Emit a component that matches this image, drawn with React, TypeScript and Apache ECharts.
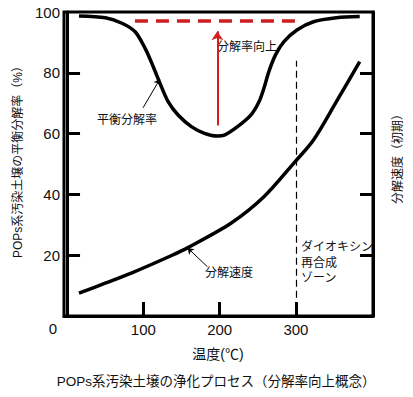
import React, { useEffect, useRef } from "react";
import * as echarts from "echarts";

// Equilibrium decomposition rate (%) vs temperature (°C)
const eqTemps = [15.6, 50.3, 72, 89.2, 102.2, 113, 121.7, 132.5, 145.5, 162.9, 180.1, 197.4, 206.1, 223.4, 240.8, 251.6, 258, 264.5, 273.2, 284, 301.3, 323, 353, 383.6];
const eqRates = [98.7, 98.1, 96.3, 93.5, 88.1, 82, 76.6, 70.5, 66.1, 62.3, 60.1, 59.2, 59.5, 62.3, 66.1, 70.5, 74.9, 80.4, 85.9, 90.2, 94.1, 96.8, 98.1, 98.5];

// Initial decomposition speed (relative) vs temperature
const spTemps = [15.6, 50, 85, 137, 158.4, 214.8, 258, 299, 323, 353, 383.6];
const spRates = [7.5, 10.8, 14.2, 19.9, 22.5, 30.5, 39.2, 50.8, 57.9, 70.5, 83.7];

// Target improved rate (red dashed)
const targetTemps = [89, 307];
const targetRate = 97;

// Improvement arrow
const arrowTemp = 197;
const arrowFrom = 62.7;
const arrowTo = 93.7;

// Dioxin re-synthesis zone boundary
const zoneTemp = 300;
const zoneFrom = 6;
const zoneTo = 84;

// Pointer arrows for annotations
const eqPointer = [[99.6, 68.5], [121.7, 77.9]];
const spPointer = [[184, 16.2], [158, 22.4]];

const xTicks = [100, 200, 300];
const yTickLabels = [20, 40, 60, 80, 100];
const yTicks = [20, 40, 60, 80];

const FONT = '"Liberation Sans", "Noto Sans CJK JP", sans-serif';
const TXT = "#111";

export default function App() {
  const ref = useRef<HTMLDivElement>(null);
  useEffect(() => {
    if (!ref.current) return;
    const chart = echarts.init(ref.current, null, { renderer: "svg" });
    const eqData = eqTemps.map((t, i) => [t, eqRates[i]]);
    const spData = spTemps.map((t, i) => [t, spRates[i]]);
    const txt = (text: string, x: number, y: number, size = 12, extra: any = {}) => ({
      type: "text",
      x,
      y,
      ...extra,
      style: { text, fill: TXT, font: `${size}px ${FONT}`, align: "left", verticalAlign: "middle", ...(extra.style || {}) },
    });
    chart.setOption({
      animation: false,
      backgroundColor: "#fff",
      grid: { left: 64, right: 40, top: 12, bottom: 81, show: true, borderColor: "#000", borderWidth: 3 },
      xAxis: {
        type: "value",
        min: -4,
        max: 401,
        axisLine: { show: true, lineStyle: { color: "#000", width: 3 } },
        axisTick: { show: true, inside: true, length: 14, customValues: xTicks, lineStyle: { color: "#000", width: 3 } },
        axisLabel: { customValues: xTicks, color: TXT, fontSize: 15, fontFamily: FONT, margin: 6 },
        splitLine: { show: false },
      },
      yAxis: [
        {
          type: "value",
          min: 0,
          max: 100,
          position: "left",
          axisLine: { show: true, lineStyle: { color: "#000", width: 3 } },
          axisTick: { show: true, inside: true, length: 13, customValues: yTicks, lineStyle: { color: "#000", width: 3 } },
          axisLabel: { customValues: yTickLabels, color: TXT, fontSize: 15, fontFamily: FONT, margin: 4 },
          splitLine: { show: false },
        },
        {
          type: "value",
          min: 0,
          max: 100,
          position: "right",
          axisLine: { show: true, lineStyle: { color: "#000", width: 3 } },
          axisTick: { show: true, inside: true, length: 13, customValues: yTicks, lineStyle: { color: "#000", width: 3 } },
          axisLabel: { show: false },
          splitLine: { show: false },
        },
      ],
      series: [
        {
          name: "平衡分解率",
          type: "line",
          data: eqData,
          smooth: 0.3,
          showSymbol: false,
          lineStyle: { color: "#000", width: 3.5 },
        },
        {
          name: "分解速度",
          type: "line",
          data: spData,
          smooth: 0.3,
          showSymbol: false,
          lineStyle: { color: "#000", width: 3.5 },
        },
        {
          name: "分解率向上",
          type: "line",
          data: targetTemps.map((t) => [t, targetRate]),
          showSymbol: false,
          lineStyle: { color: "#cc1f1f", width: 3.5, type: [13, 8] },
        },
        {
          type: "lines",
          coordinateSystem: "cartesian2d",
          symbol: ["none", "arrow"],
          symbolSize: 9,
          lineStyle: { color: "#d41f1f", width: 2, opacity: 1 },
          data: [{ coords: [[arrowTemp, arrowFrom], [arrowTemp, arrowTo]] }],
        },
        {
          type: "lines",
          coordinateSystem: "cartesian2d",
          symbol: ["none", "none"],
          lineStyle: { color: "#000", width: 1.2, type: [7, 4], opacity: 1 },
          data: [{ coords: [[zoneTemp, zoneFrom], [zoneTemp, zoneTo]] }],
        },
        {
          type: "lines",
          coordinateSystem: "cartesian2d",
          symbol: ["none", "arrow"],
          symbolSize: 6,
          lineStyle: { color: "#000", width: 1, opacity: 1 },
          data: [{ coords: eqPointer }, { coords: spPointer }],
        },
      ],
      graphic: [
        txt("0", 53, 328, 15, { style: { align: "center" } }),
        txt("温度(℃)", 218, 354, 14, { style: { align: "center" } }),
        txt("POPs系汚染土壌の浄化プロセス（分解率向上概念）", 216, 381, 13.5, { style: { align: "center" } }),
        txt("POPs系汚染土壌の平衡分解率（%）", 18, 159, 12, { rotation: Math.PI / 2, style: { align: "center" } }),
        txt("分解速度（初期）", 398, 156, 12, { rotation: Math.PI / 2, style: { align: "center" } }),
        txt("平衡分解率", 97, 120, 12),
        txt("分解率向上", 217, 47, 12),
        txt("分解速度", 205, 273, 12),
        txt("ダイオキシン", 301, 247, 12),
        txt("再合成", 301, 263, 12),
        txt("ゾーン", 301, 278, 12),
      ],
    });
    return () => chart.dispose();
  }, []);
  return <div ref={ref} style={{ position: "fixed", left: 0, top: 0, width: 413, height: 397 }} />;
}
